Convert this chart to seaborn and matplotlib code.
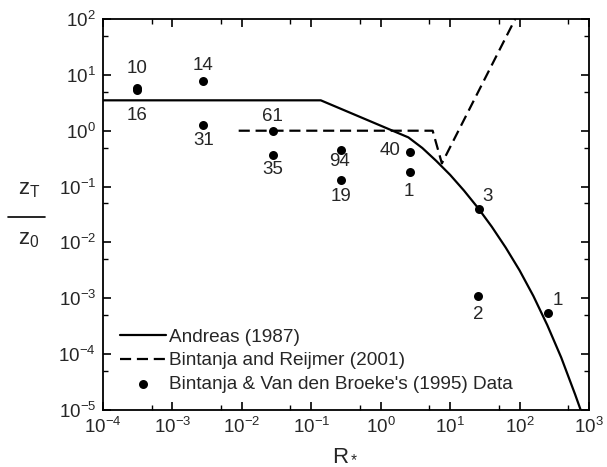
import numpy as np
import pandas as pd
import matplotlib
matplotlib.use("Agg")
import matplotlib.pyplot as plt
import matplotlib.ticker as mticker
from matplotlib.lines import Line2D
import seaborn as sns

# ---- data ----
andreas_r = [1e-4, 0.137, 2.5, 3.98, 6.31, 10.0, 15.8, 25.1, 39.8, 63.1, 100.0, 158.0, 251.0, 398.0, 631.0, 759.0]
andreas_z = [3.5, 3.5, 0.76, 0.49, 0.288, 0.162, 0.085, 0.0417, 0.0191, 8.1e-3, 3.16e-3, 1.10e-3, 3.3e-4, 8.7e-5, 1.9e-5, 1.0e-5]

bintanja_r = [0.009, 5.6, 7.6, 86.5]
bintanja_z = [1.0, 1.0, 0.26, 100.0]

data_r = [3.1e-4, 3.1e-4, 2.8e-3, 2.8e-3, 0.028, 0.028, 0.27, 0.27, 2.6, 2.6, 26.0, 25.0, 255.0]
data_z = [5.9, 5.3, 7.8, 1.25, 1.0, 0.36, 0.46, 0.13, 0.41, 0.18, 0.040, 1.08e-3, 5.4e-4]
data_labels = ['10', '16', '14', '31', '61', '35', '94', '19', '40', '1', '3', '2', '1']
# label offsets in pixels (dx, dy)
label_offsets = [(0, 19), (0, -25), (0, 15), (0, -15), (0, 14), (0, -14),
                 (-2, -12), (0, -16), (-19, 2), (-1, -19), (9, 12), (0, -18), (10, 13)]

x_ticks = [1e-4, 1e-3, 1e-2, 1e-1, 1e0, 1e1, 1e2, 1e3]
y_ticks = [1e-5, 1e-4, 1e-3, 1e-2, 1e-1, 1e0, 1e1, 1e2]
x_minor = [5e-4, 5e-3, 5e-2, 5e-1, 5e0, 5e1, 5e2]
y_minor = [5e-5, 5e-4, 5e-3, 5e-2, 5e-1, 5e0, 5e1]

legend_names = ["Andreas (1987)", "Bintanja and Reijmer (2001)",
                "Bintanja & Van den Broeke's (1995) Data"]

# ---- style ----
sns.set_style("ticks")
plt.rcParams['font.family'] = ['Liberation Sans', 'DejaVu Sans']
plt.rcParams['mathtext.fontset'] = 'custom'
plt.rcParams['mathtext.rm'] = 'Liberation Sans'
plt.rcParams['mathtext.it'] = 'Liberation Sans'

fig = plt.figure(figsize=(6.07, 4.67), dpi=100)
ax = fig.add_axes([103/607, 1-410/467, (589-103)/607, (410-19)/467])

df_a = pd.DataFrame({'R': andreas_r, 'z': andreas_z})
df_b = pd.DataFrame({'R': bintanja_r, 'z': bintanja_z})
df_d = pd.DataFrame({'R': data_r, 'z': data_z})

sns.lineplot(data=df_a, x='R', y='z', ax=ax, color='black', lw=1.6,
             estimator=None, sort=False, label=legend_names[0])
sns.lineplot(data=df_b, x='R', y='z', ax=ax, color='black', lw=1.6,
             estimator=None, sort=False, label=legend_names[1],
             linestyle=(0, (5, 2.6)))
sns.scatterplot(data=df_d, x='R', y='z', ax=ax, color='black', s=42,
                edgecolor='black', linewidth=0, label=legend_names[2], zorder=5)

ax.set_xscale('log')
ax.set_yscale('log')
ax.set_xlim(1e-4, 1e3)
ax.set_ylim(1e-5, 1e2)

for r, z, lab, (dx, dy) in zip(data_r, data_z, data_labels, label_offsets):
    ax.annotate(lab, (r, z), xytext=(dx, dy), textcoords='offset pixels',
                ha='center', va='center', fontsize=13.5)

ax.xaxis.set_major_locator(mticker.FixedLocator(x_ticks))
ax.yaxis.set_major_locator(mticker.FixedLocator(y_ticks))
ax.xaxis.set_minor_locator(mticker.FixedLocator(x_minor))
ax.yaxis.set_minor_locator(mticker.FixedLocator(y_minor))
ax.xaxis.set_major_formatter(mticker.LogFormatterSciNotation())
ax.yaxis.set_major_formatter(mticker.LogFormatterSciNotation())
ax.xaxis.set_minor_formatter(mticker.NullFormatter())
ax.yaxis.set_minor_formatter(mticker.NullFormatter())
ax.tick_params(which='both', direction='in', top=True, right=True, color='black')
ax.tick_params(which='major', length=6, width=1.2, labelsize=13.5, pad=5)
ax.tick_params(which='minor', length=3.5, width=1.0)
for s in ax.spines.values():
    s.set_linewidth(1.3)
    s.set_color('black')

ax.set_xlabel('')
ax.set_ylabel('')
ax.xaxis.label.set_visible(False)
ax.yaxis.label.set_visible(False)

leg = ax.legend(loc='lower left', bbox_to_anchor=(0.02, 0.025), frameon=False,
                fontsize=13.7, handlelength=2.4, handletextpad=0.15,
                labelspacing=0.32, borderaxespad=0.0)

# axis labels
fig.text(345/607, 1-455/467, r'R$_*$', ha='center', va='center', fontsize=16)
fig.text(29/607, 1-190/467, r'z$_\mathregular{T}$', ha='center', va='center', fontsize=16)
fig.text(29/607, 1-240/467, r'z$_\mathregular{0}$', ha='center', va='center', fontsize=16)
fig.add_artist(Line2D([8/607, 45/607], [1-217/467, 1-217/467], color='black', lw=1.2,
                      transform=fig.transFigure))

fig.savefig('out.png', dpi=100, facecolor='white')
